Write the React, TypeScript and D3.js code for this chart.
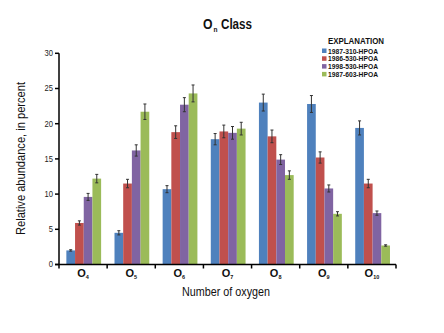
import React from "react";
import * as d3 from "d3";

const categories = ["4", "5", "6", "7", "8", "9", "10"];
const seriesNames = ["1987-310-HPOA", "1986-530-HPOA", "1998-530-HPOA", "1987-603-HPOA"];
const colors = ["#4F81BD", "#C0504D", "#8064A2", "#9BBB59"];
const values1987_310 = [2.0, 4.5, 10.7, 17.8, 23.0, 22.8, 19.4];
const values1986_530 = [5.9, 11.5, 18.8, 18.9, 18.2, 15.2, 11.5];
const values1998_530 = [9.6, 16.2, 22.7, 18.7, 14.9, 10.8, 7.3];
const values1987_603 = [12.2, 21.7, 24.3, 19.3, 12.7, 7.2, 2.7];
const err1987_310 = [0.1, 0.3, 0.5, 0.8, 1.2, 1.2, 1.0];
const err1986_530 = [0.3, 0.6, 0.9, 0.9, 0.9, 0.8, 0.6];
const err1998_530 = [0.5, 0.8, 1.0, 0.9, 0.7, 0.5, 0.3];
const err1987_603 = [0.6, 1.1, 1.2, 0.9, 0.6, 0.3, 0.1];
const yTicks = [0, 5, 10, 15, 20, 25, 30];

const seriesValues = [values1987_310, values1986_530, values1998_530, values1987_603];
const seriesErrors = [err1987_310, err1986_530, err1998_530, err1987_603];

const FONT = "'Liberation Sans', Arial, sans-serif";

export default function App() {
  const W = 444, H = 333;
  const left = 59, right = 396, top = 53.3, bottom = 264.5;
  const x0 = d3.scaleBand<string>().domain(categories).range([left, right]).padding(0);
  const x1 = d3.scaleBand<string>().domain(seriesNames).range([0, x0.bandwidth()]).paddingInner(0).paddingOuter(0.77).align(0.55);
  const y = d3.scaleLinear().domain([0, 30]).range([bottom, top]);

  return (
    <svg width={W} height={H} style={{ position: "absolute", left: 0, top: 0, background: "#fff" }}>
      {/* title */}
      <text x={203} y={29} fontFamily={FONT} fontWeight="bold" fontSize={14} fill="#111" textLength={9.5} lengthAdjust="spacingAndGlyphs">O</text>
      <text x={213.5} y={32} fontFamily={FONT} fontWeight="bold" fontSize={8} fill="#111" textLength={4} lengthAdjust="spacingAndGlyphs">n</text>
      <text x={221} y={29} fontFamily={FONT} fontWeight="bold" fontSize={14} fill="#111" textLength={31} lengthAdjust="spacingAndGlyphs">Class</text>
      {/* bars */}
      {categories.map((c, ci) => (
        <g key={c}>
          {seriesNames.map((s, si) => {
            const v = seriesValues[si][ci];
            const e = seriesErrors[si][ci];
            const bx = (x0(c) as number) + (x1(s) as number);
            const bw = x1.bandwidth();
            const cx = bx + bw / 2;
            return (
              <g key={s}>
                <rect x={bx} y={y(v)} width={bw} height={bottom - y(v)} fill={colors[si]} />
                <line x1={cx} x2={cx} y1={y(v + e)} y2={y(v - e)} stroke="#333" strokeWidth={1} />
                <line x1={cx - 1.5} x2={cx + 1.5} y1={y(v + e)} y2={y(v + e)} stroke="#333" strokeWidth={1} />
                <line x1={cx - 1.5} x2={cx + 1.5} y1={y(v - e)} y2={y(v - e)} stroke="#333" strokeWidth={1} />
              </g>
            );
          })}
        </g>
      ))}
      {/* y axis */}
      <line x1={left} x2={left} y1={top} y2={bottom} stroke="#000" strokeWidth={1.5} />
      {yTicks.map((t) => (
        <g key={t}>
          <line x1={left - 4} x2={left} y1={y(t)} y2={y(t)} stroke="#000" strokeWidth={1.5} />
          <text x={left - 6} y={y(t) + 3} textAnchor="end" fontFamily={FONT} fontSize={9.5} fill="#222" transform={`translate(${left - 6},0) scale(0.8,1) translate(${-(left - 6)},0)`}>{t}</text>
        </g>
      ))}
      {/* x axis */}
      <line x1={left - 4} x2={right} y1={bottom} y2={bottom} stroke="#000" strokeWidth={1.5} />
      {categories.map((c) => (
        <line key={"tk" + c} x1={x0(c) as number} x2={x0(c) as number} y1={bottom} y2={bottom + 4} stroke="#000" strokeWidth={1.5} />
      ))}
      <line x1={right} x2={right} y1={bottom} y2={bottom + 4} stroke="#000" strokeWidth={1.5} />
      {categories.map((c) => (
        <text key={"lb" + c} x={(x0(c) as number) + x0.bandwidth() / 2} y={277} textAnchor="middle" fontFamily={FONT} fontWeight="bold" fontSize={11} fill="#111">
          O<tspan fontSize={5.5} dy={2}>{c}</tspan>
        </text>
      ))}
      {/* axis titles */}
      <text x={182} y={296} fontFamily={FONT} fontSize={12} fill="#111" textLength={88} lengthAdjust="spacingAndGlyphs">Number of oxygen</text>
      <text transform={`translate(25,235) rotate(-90)`} fontFamily={FONT} fontSize={12} fill="#111" textLength={153} lengthAdjust="spacingAndGlyphs">Relative abundance, in percent</text>
      {/* legend */}
      <text x={328} y={44} fontFamily={FONT} fontWeight="bold" fontSize={9} fill="#111" textLength={56} lengthAdjust="spacingAndGlyphs">EXPLANATION</text>
      {seriesNames.map((s, i) => (
        <g key={"lg" + s}>
          <rect x={322} y={48.5 + i * 7.8} width={4.5} height={4.5} fill={colors[i]} />
          <text x={328} y={53.5 + i * 7.8} fontFamily={FONT} fontWeight="bold" fontSize={7.5} fill="#111" textLength={50} lengthAdjust="spacingAndGlyphs">{s}</text>
        </g>
      ))}
    </svg>
  );
}
